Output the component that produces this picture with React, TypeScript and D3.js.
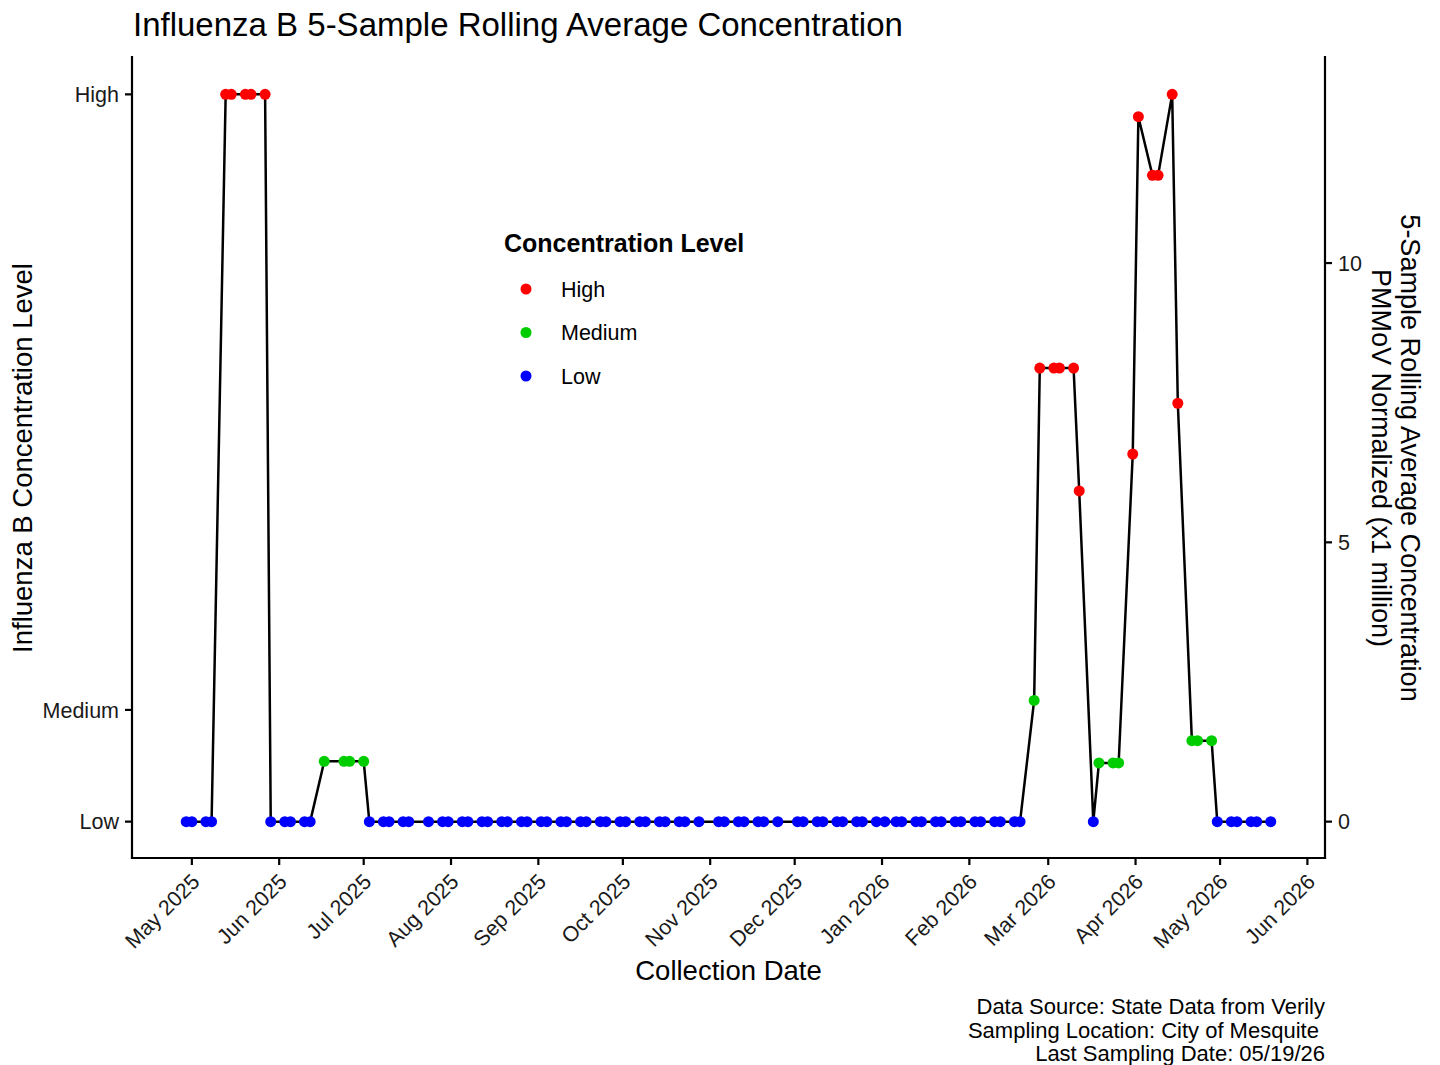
import * as d3 from "d3";

// sampling dates (Tue/Thu collection schedule)
const dates = [
  "2025-04-29", "2025-05-01", "2025-05-06", "2025-05-08", "2025-05-13", "2025-05-15",
  "2025-05-20", "2025-05-22", "2025-05-27", "2025-05-29", "2025-06-03", "2025-06-05",
  "2025-06-10", "2025-06-12", "2025-06-17", "2025-06-24", "2025-06-26", "2025-07-01",
  "2025-07-03", "2025-07-08", "2025-07-10", "2025-07-15", "2025-07-17", "2025-07-24",
  "2025-07-29", "2025-07-31", "2025-08-05", "2025-08-07", "2025-08-12", "2025-08-14",
  "2025-08-19", "2025-08-21", "2025-08-26", "2025-08-28", "2025-09-02", "2025-09-04",
  "2025-09-09", "2025-09-11", "2025-09-16", "2025-09-18", "2025-09-23", "2025-09-25",
  "2025-09-30", "2025-10-02", "2025-10-07", "2025-10-09", "2025-10-14", "2025-10-16",
  "2025-10-21", "2025-10-23", "2025-10-28", "2025-11-04", "2025-11-06", "2025-11-11",
  "2025-11-13", "2025-11-18", "2025-11-20", "2025-11-25", "2025-12-02", "2025-12-04",
  "2025-12-09", "2025-12-11", "2025-12-16", "2025-12-18", "2025-12-23", "2025-12-25",
  "2025-12-30", "2026-01-02", "2026-01-06", "2026-01-08", "2026-01-13", "2026-01-15",
  "2026-01-20", "2026-01-22", "2026-01-27", "2026-01-29", "2026-02-03", "2026-02-05",
  "2026-02-10", "2026-02-12", "2026-02-17", "2026-02-19", "2026-02-24", "2026-02-26",
  "2026-03-03", "2026-03-05", "2026-03-10", "2026-03-12", "2026-03-17", "2026-03-19",
  "2026-03-24", "2026-03-26", "2026-03-31", "2026-04-02", "2026-04-07", "2026-04-09",
  "2026-04-14", "2026-04-16", "2026-04-21", "2026-04-23", "2026-04-28", "2026-04-30",
  "2026-05-05", "2026-05-07", "2026-05-12", "2026-05-14", "2026-05-19",
];

// 5-sample rolling average, PMMoV normalized (x1 million)
const values = [
  0, 0, 0, 0, 13.02, 13.02,
  13.02, 13.02, 13.02, 0, 0, 0,
  0, 0, 1.08, 1.08, 1.08, 1.08,
  0, 0, 0, 0, 0, 0,
  0, 0, 0, 0, 0, 0,
  0, 0, 0, 0, 0, 0,
  0, 0, 0, 0, 0, 0,
  0, 0, 0, 0, 0, 0,
  0, 0, 0, 0, 0, 0,
  0, 0, 0, 0, 0, 0,
  0, 0, 0, 0, 0, 0,
  0, 0, 0, 0, 0, 0,
  0, 0, 0, 0, 0, 0,
  0, 0, 0, 0, 2.17, 8.12,
  8.12, 8.12, 8.12, 5.92, 0, 1.05,
  1.05, 1.05, 6.58, 12.62, 11.57, 11.57,
  13.02, 7.49, 1.45, 1.45, 1.45, 0,
  0, 0, 0, 0, 0,
];

// concentration level of each sample (same order as dates)
const levels = [
  "Low", "Low", "Low", "Low", "High", "High",
  "High", "High", "High", "Low", "Low", "Low",
  "Low", "Low", "Medium", "Medium", "Medium", "Medium",
  ...Array(64).fill("Low"),
  "Medium", "High",
  "High", "High", "High", "High", "Low", "Medium",
  "Medium", "Medium", "High", "High", "High", "High",
  "High", "High", "Medium", "Medium", "Medium", "Low",
  "Low", "Low", "Low", "Low", "Low",
];

const levelNames = ["High", "Medium", "Low"];
const levelColors = ["#FF0000", "#00CD00", "#0000FF"];
const levelBreaks = [13.02, 2, 0]; // left axis positions of the level labels
const rightTicks = [0, 5, 10];
const monthTicks = [
  "2025-05-01", "2025-06-01", "2025-07-01", "2025-08-01", "2025-09-01", "2025-10-01",
  "2025-11-01", "2025-12-01", "2026-01-01", "2026-02-01", "2026-03-01", "2026-04-01",
  "2026-05-01", "2026-06-01",
];
const captionLines = [
  "Data Source: State Data from Verily",
  "Sampling Location: City of Mesquite ",
  "Last Sampling Date: 05/19/26",
];

const W = 1440;
const H = 1065;
const margin = { top: 58, right: 115, bottom: 207, left: 132 };
const font = "'Liberation Sans', Arial, Helvetica, sans-serif";

export default function App() {
  const parse = d3.utcParse("%Y-%m-%d");
  const pts = dates.map((d, i) => ({ date: parse(d)!, value: values[i], level: levels[i] }));

  const x0 = d3.min(pts, p => p.date)!.getTime();
  const x1 = d3.max(pts, p => p.date)!.getTime();
  const xpad = (x1 - x0) * 0.05;
  const x = d3.scaleUtc()
    .domain([new Date(x0 - xpad), new Date(x1 + xpad)])
    .range([margin.left, W - margin.right]);

  const vmax = d3.max(values)!;
  const ypad = vmax * 0.05;
  const y = d3.scaleLinear()
    .domain([-ypad, vmax + ypad])
    .range([H - margin.bottom, margin.top]);

  const color = d3.scaleOrdinal<string, string>().domain(levelNames).range(levelColors);

  const line = d3.line<{ date: Date; value: number }>()
    .x(d => x(d.date))
    .y(d => y(d.value));

  const left = margin.left;
  const right = W - margin.right;
  const bottom = H - margin.bottom;
  const top = margin.top - 2;
  const midY = (margin.top + bottom) / 2;
  const tick = 7;
  const fmt = d3.utcFormat("%b %Y");

  return (
    <svg
      width={W}
      height={H}
      style={{ position: "absolute", left: 0, top: 0, background: "#fff" }}
      fontFamily={font}
    >
      <rect width={W} height={H} fill="#fff" />

      <text x={133} y={36} fontSize={33} fill="#000">
        Influenza B 5-Sample Rolling Average Concentration
      </text>

      {/* data */}
      <path d={line(pts) ?? ""} fill="none" stroke="#000" strokeWidth={2.5} strokeLinejoin="round" />
      {pts.map((p, i) => (
        <circle key={i} cx={x(p.date)} cy={y(p.value)} r={5.5} fill={color(p.level)} />
      ))}

      {/* axis lines */}
      <g stroke="#000" strokeWidth={2.2} fill="none">
        <line x1={left} x2={left} y1={top} y2={bottom + 1.1} />
        <line x1={right} x2={right} y1={top} y2={bottom + 1.1} />
        <line x1={left - 1.1} x2={right + 1.1} y1={bottom} y2={bottom} />
      </g>

      {/* left axis: levels */}
      {levelNames.map((n, i) => (
        <g key={n}>
          <line x1={left - tick} x2={left} y1={y(levelBreaks[i])} y2={y(levelBreaks[i])} stroke="#000" strokeWidth={2.2} />
          <text x={left - 13} y={y(levelBreaks[i])} dy="0.36em" textAnchor="end" fontSize={21.5} fill="#1a1a1a">
            {n}
          </text>
        </g>
      ))}

      {/* right axis */}
      {rightTicks.map(t => (
        <g key={t}>
          <line x1={right} x2={right + tick} y1={y(t)} y2={y(t)} stroke="#000" strokeWidth={2.2} />
          <text x={right + 13} y={y(t)} dy="0.36em" fontSize={21.5} fill="#1a1a1a">
            {t}
          </text>
        </g>
      ))}

      {/* x axis */}
      {monthTicks.map(m => {
        const d = parse(m)!;
        const tx = x(d);
        return (
          <g key={m}>
            <line x1={tx} x2={tx} y1={bottom} y2={bottom + tick} stroke="#000" strokeWidth={2.2} />
            <text
              transform={`translate(${tx + 9},${bottom + 25}) rotate(-45)`}
              textAnchor="end"
              fontSize={21.5}
              fill="#1a1a1a"
            >
              {fmt(d)}
            </text>
          </g>
        );
      })}

      {/* axis titles */}
      <text x={(left + right) / 2} y={980} textAnchor="middle" fontSize={27.5} fill="#000">
        Collection Date
      </text>
      <text transform={`translate(32,${midY}) rotate(-90)`} textAnchor="middle" fontSize={27.5} fill="#000">
        Influenza B Concentration Level
      </text>
      <text transform={`translate(1401,${midY}) rotate(90)`} textAnchor="middle" fontSize={27} fill="#000">
        5-Sample Rolling Average Concentration
      </text>
      <text transform={`translate(1372,${midY}) rotate(90)`} textAnchor="middle" fontSize={27} fill="#000">
        PMMoV Normalized (x1 million)
      </text>

      {/* legend */}
      <text x={504} y={252} fontSize={25} fontWeight="bold" fill="#000">
        Concentration Level
      </text>
      {levelNames.map((n, i) => (
        <g key={n} transform={`translate(0,${289 + i * 43.5})`}>
          <circle cx={526} cy={0} r={5.5} fill={color(n)} />
          <text x={561} y={0} dy="0.36em" fontSize={21.5} fill="#000">
            {n}
          </text>
        </g>
      ))}

      {/* caption */}
      {captionLines.map((c, i) => (
        <text
          key={i}
          x={right}
          y={1014 + i * 23.5}
          textAnchor="end"
          fontSize={22}
          fill="#000"
          style={{ whiteSpace: "pre" }}
        >
          {c}
        </text>
      ))}
    </svg>
  );
}
